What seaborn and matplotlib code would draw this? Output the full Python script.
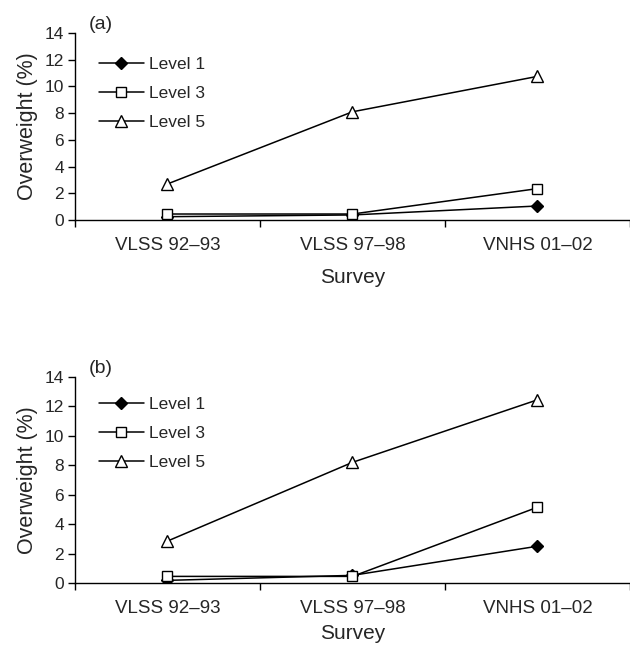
import matplotlib
matplotlib.use("Agg")
import matplotlib.pyplot as plt
import seaborn as sns
import pandas as pd

surveys = ["VLSS 92\u201393", "VLSS 97\u201398", "VNHS 01\u201302"]
levels = ["Level 1", "Level 3", "Level 5"]
panel_a_level1 = [0.25, 0.38, 1.05]
panel_a_level3 = [0.45, 0.45, 2.35]
panel_a_level5 = [2.7, 8.1, 10.75]
panel_b_level1 = [0.18, 0.52, 2.5]
panel_b_level3 = [0.45, 0.45, 5.15]
panel_b_level5 = [2.85, 8.2, 12.45]
y_ticks = [0, 2, 4, 6, 8, 10, 12, 14]

sns.set_theme(style="ticks")
plt.rcParams["font.family"] = ["Liberation Sans", "DejaVu Sans"]

fig = plt.figure(figsize=(6.3, 6.46), dpi=100)
ax_a = fig.add_axes([0.119, 0.6594, 0.881, 0.2896])
ax_b = fig.add_axes([0.119, 0.0975, 0.881, 0.3189])

styles = {
    "Level 1": dict(marker="D", markersize=6.5, markerfacecolor="black", markeredgecolor="black"),
    "Level 3": dict(marker="s", markersize=7, markerfacecolor="white", markeredgecolor="black"),
    "Level 5": dict(marker="^", markersize=8.5, markerfacecolor="white", markeredgecolor="black"),
}

panels = [
    (ax_a, "(a)", [panel_a_level1, panel_a_level3, panel_a_level5], 10.5, 0.909),
    (ax_b, "(b)", [panel_b_level1, panel_b_level3, panel_b_level5], 5.5, 0.937),
]

for ax, tag, series, lpad, leg_y in panels:
    for lvl, vals in zip(levels, series):
        df = pd.DataFrame({"Survey": surveys, "value": vals})
        sns.lineplot(data=df, x="Survey", y="value", ax=ax, color="black",
                     linewidth=1.1, label=lvl, markeredgewidth=1.0,
                     **styles[lvl])
    ax.set_xlim(-0.5, 2.5)
    ax.set_ylim(0, 14)
    ax.set_yticks(y_ticks)
    ax.set_xticks([0, 1, 2])
    ax.set_xticklabels(surveys)
    ax.set_xticks([-0.5, 0.5, 1.5, 2.5], minor=True)
    ax.tick_params(axis="x", which="major", length=0, pad=12, labelsize=13.5)
    ax.tick_params(axis="x", which="minor", length=5, width=1, direction="out", color="black")
    ax.tick_params(axis="y", length=5, width=1, direction="out", pad=3, labelsize=12.5, color="black")
    for s in ["top", "right"]:
        ax.spines[s].set_visible(False)
    for s in ["left", "bottom"]:
        ax.spines[s].set_color("black")
        ax.spines[s].set_linewidth(1.0)
    ax.set_xlabel("Survey", fontsize=15, labelpad=lpad)
    ax.set_ylabel("Overweight (%)", fontsize=15.5, labelpad=5)
    ax.text(0.025, 1.0, tag, transform=ax.transAxes, fontsize=14, va="bottom", ha="left")
    leg = ax.legend(loc="upper left", bbox_to_anchor=(0.03, leg_y), frameon=False,
                    fontsize=12.5, handlelength=2.6, handletextpad=0.3, labelspacing=0.8,
                    borderaxespad=0)

fig.savefig("out.png", dpi=100)
